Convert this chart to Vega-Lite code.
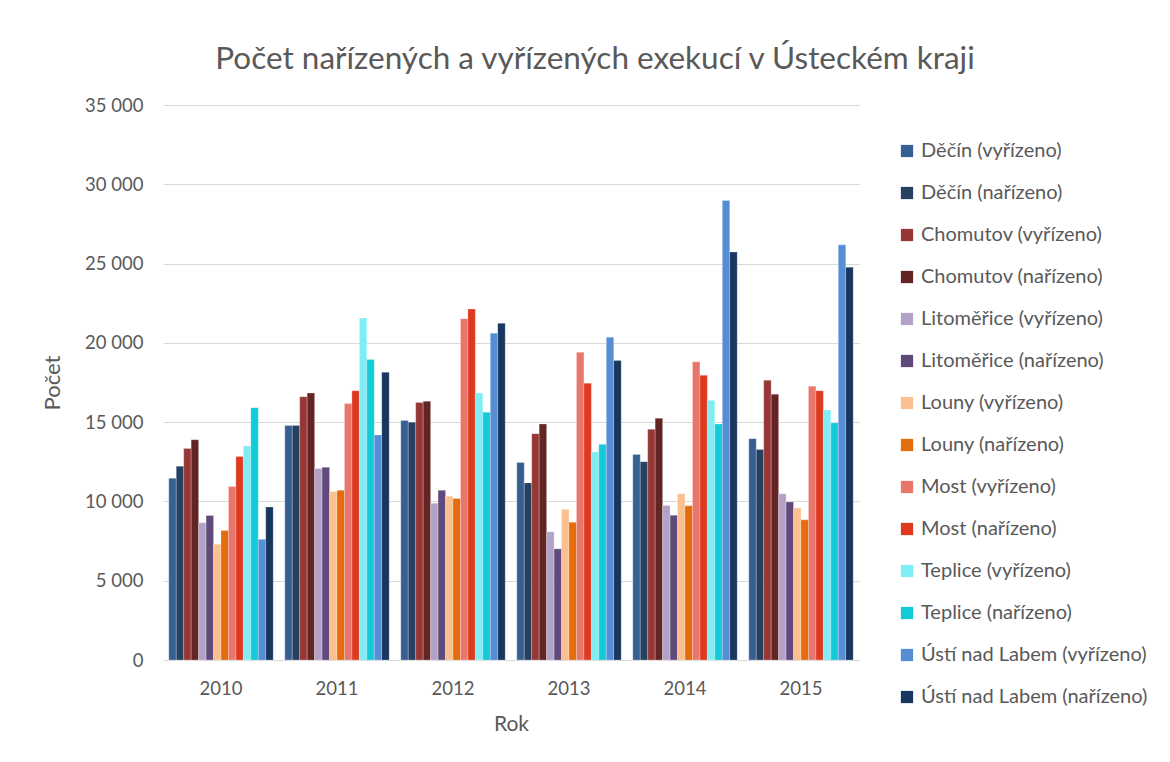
{
  "$schema": "https://vega.github.io/schema/vega-lite/v6.json",
  "width": 696,
  "height": 555,
  "autosize": {"type": "none"},
  "padding": {"left": 163, "top": 105, "right": 311, "bottom": 102},
  "background": "white",
  "title": {
    "text": "Počet nařízených a vyřízených exekucí v Ústeckém kraji",
    "font": "Lato",
    "fontSize": 31.5,
    "fontWeight": "normal",
    "color": "#595959",
    "anchor": "middle",
    "frame": "group",
    "dx": 84,
    "offset": 21
  },
  "data": {
    "values": [
      {"rok": "2010", "serie": "Děčín (vyřízeno)", "pocet": 11460},
      {"rok": "2010", "serie": "Děčín (nařízeno)", "pocet": 12220},
      {"rok": "2010", "serie": "Chomutov (vyřízeno)", "pocet": 13340},
      {"rok": "2010", "serie": "Chomutov (nařízeno)", "pocet": 13890},
      {"rok": "2010", "serie": "Litoměřice (vyřízeno)", "pocet": 8650},
      {"rok": "2010", "serie": "Litoměřice (nařízeno)", "pocet": 9110},
      {"rok": "2010", "serie": "Louny (vyřízeno)", "pocet": 7300},
      {"rok": "2010", "serie": "Louny (nařízeno)", "pocet": 8160},
      {"rok": "2010", "serie": "Most (vyřízeno)", "pocet": 10940},
      {"rok": "2010", "serie": "Most (nařízeno)", "pocet": 12840},
      {"rok": "2010", "serie": "Teplice (vyřízeno)", "pocet": 13500},
      {"rok": "2010", "serie": "Teplice (nařízeno)", "pocet": 15910},
      {"rok": "2010", "serie": "Ústí nad Labem (vyřízeno)", "pocet": 7610},
      {"rok": "2010", "serie": "Ústí nad Labem (nařízeno)", "pocet": 9650},

      {"rok": "2011", "serie": "Děčín (vyřízeno)", "pocet": 14790},
      {"rok": "2011", "serie": "Děčín (nařízeno)", "pocet": 14790},
      {"rok": "2011", "serie": "Chomutov (vyřízeno)", "pocet": 16600},
      {"rok": "2011", "serie": "Chomutov (nařízeno)", "pocet": 16830},
      {"rok": "2011", "serie": "Litoměřice (vyřízeno)", "pocet": 12080},
      {"rok": "2011", "serie": "Litoměřice (nařízeno)", "pocet": 12150},
      {"rok": "2011", "serie": "Louny (vyřízeno)", "pocet": 10630},
      {"rok": "2011", "serie": "Louny (nařízeno)", "pocet": 10700},
      {"rok": "2011", "serie": "Most (vyřízeno)", "pocet": 16170},
      {"rok": "2011", "serie": "Most (nařízeno)", "pocet": 16980},
      {"rok": "2011", "serie": "Teplice (vyřízeno)", "pocet": 21560},
      {"rok": "2011", "serie": "Teplice (nařízeno)", "pocet": 18950},
      {"rok": "2011", "serie": "Ústí nad Labem (vyřízeno)", "pocet": 14190},
      {"rok": "2011", "serie": "Ústí nad Labem (nařízeno)", "pocet": 18140},

      {"rok": "2012", "serie": "Děčín (vyřízeno)", "pocet": 15100},
      {"rok": "2012", "serie": "Děčín (nařízeno)", "pocet": 15000},
      {"rok": "2012", "serie": "Chomutov (vyřízeno)", "pocet": 16240},
      {"rok": "2012", "serie": "Chomutov (nařízeno)", "pocet": 16310},
      {"rok": "2012", "serie": "Litoměřice (vyřízeno)", "pocet": 9890},
      {"rok": "2012", "serie": "Litoměřice (nařízeno)", "pocet": 10700},
      {"rok": "2012", "serie": "Louny (vyřízeno)", "pocet": 10320},
      {"rok": "2012", "serie": "Louny (nařízeno)", "pocet": 10180},
      {"rok": "2012", "serie": "Most (vyřízeno)", "pocet": 21520},
      {"rok": "2012", "serie": "Most (nařízeno)", "pocet": 22130},
      {"rok": "2012", "serie": "Teplice (vyřízeno)", "pocet": 16830},
      {"rok": "2012", "serie": "Teplice (nařízeno)", "pocet": 15620},
      {"rok": "2012", "serie": "Ústí nad Labem (vyřízeno)", "pocet": 20610},
      {"rok": "2012", "serie": "Ústí nad Labem (nařízeno)", "pocet": 21230},

      {"rok": "2013", "serie": "Děčín (vyřízeno)", "pocet": 12460},
      {"rok": "2013", "serie": "Děčín (nařízeno)", "pocet": 11170},
      {"rok": "2013", "serie": "Chomutov (vyřízeno)", "pocet": 14270},
      {"rok": "2013", "serie": "Chomutov (nařízeno)", "pocet": 14880},
      {"rok": "2013", "serie": "Litoměřice (vyřízeno)", "pocet": 8080},
      {"rok": "2013", "serie": "Litoměřice (nařízeno)", "pocet": 7010},
      {"rok": "2013", "serie": "Louny (vyřízeno)", "pocet": 9510},
      {"rok": "2013", "serie": "Louny (nařízeno)", "pocet": 8680},
      {"rok": "2013", "serie": "Most (vyřízeno)", "pocet": 19400},
      {"rok": "2013", "serie": "Most (nařízeno)", "pocet": 17450},
      {"rok": "2013", "serie": "Teplice (vyřízeno)", "pocet": 13120},
      {"rok": "2013", "serie": "Teplice (nařízeno)", "pocet": 13600},
      {"rok": "2013", "serie": "Ústí nad Labem (vyřízeno)", "pocet": 20350},
      {"rok": "2013", "serie": "Ústí nad Labem (nařízeno)", "pocet": 18880},

      {"rok": "2014", "serie": "Děčín (vyřízeno)", "pocet": 12960},
      {"rok": "2014", "serie": "Děčín (nařízeno)", "pocet": 12510},
      {"rok": "2014", "serie": "Chomutov (vyřízeno)", "pocet": 14550},
      {"rok": "2014", "serie": "Chomutov (nařízeno)", "pocet": 15240},
      {"rok": "2014", "serie": "Litoměřice (vyřízeno)", "pocet": 9750},
      {"rok": "2014", "serie": "Litoměřice (nařízeno)", "pocet": 9130},
      {"rok": "2014", "serie": "Louny (vyřízeno)", "pocet": 10490},
      {"rok": "2014", "serie": "Louny (nařízeno)", "pocet": 9720},
      {"rok": "2014", "serie": "Most (vyřízeno)", "pocet": 18810},
      {"rok": "2014", "serie": "Most (nařízeno)", "pocet": 17950},
      {"rok": "2014", "serie": "Teplice (vyřízeno)", "pocet": 16380},
      {"rok": "2014", "serie": "Teplice (nařízeno)", "pocet": 14880},
      {"rok": "2014", "serie": "Ústí nad Labem (vyřízeno)", "pocet": 28980},
      {"rok": "2014", "serie": "Ústí nad Labem (nařízeno)", "pocet": 25730},

      {"rok": "2015", "serie": "Děčín (vyřízeno)", "pocet": 13960},
      {"rok": "2015", "serie": "Děčín (nařízeno)", "pocet": 13270},
      {"rok": "2015", "serie": "Chomutov (vyřízeno)", "pocet": 17640},
      {"rok": "2015", "serie": "Chomutov (nařízeno)", "pocet": 16760},
      {"rok": "2015", "serie": "Litoměřice (vyřízeno)", "pocet": 10490},
      {"rok": "2015", "serie": "Litoměřice (nařízeno)", "pocet": 9960},
      {"rok": "2015", "serie": "Louny (vyřízeno)", "pocet": 9580},
      {"rok": "2015", "serie": "Louny (nařízeno)", "pocet": 8840},
      {"rok": "2015", "serie": "Most (vyřízeno)", "pocet": 17260},
      {"rok": "2015", "serie": "Most (nařízeno)", "pocet": 16980},
      {"rok": "2015", "serie": "Teplice (vyřízeno)", "pocet": 15760},
      {"rok": "2015", "serie": "Teplice (nařízeno)", "pocet": 14950},
      {"rok": "2015", "serie": "Ústí nad Labem (vyřízeno)", "pocet": 26180},
      {"rok": "2015", "serie": "Ústí nad Labem (nařízeno)", "pocet": 24770}
    ]
  },
  "mark": {"type": "bar", "stroke": "white", "strokeWidth": 0.4, "strokeOpacity": 0.6},
  "encoding": {
    "x": {
      "field": "rok",
      "type": "nominal",
      "scale": {"paddingInner": 0.1, "paddingOuter": 0.05},
      "axis": {
        "title": "Rok",
        "labelAngle": 0,
        "ticks": false,
        "labelPadding": 19,
        "titlePadding": 16,
        "domainColor": "#d9d9d9",
        "domainWidth": 1
      }
    },
    "xOffset": {
      "field": "serie",
      "sort": ["Děčín (vyřízeno)", "Děčín (nařízeno)", "Chomutov (vyřízeno)", "Chomutov (nařízeno)", "Litoměřice (vyřízeno)", "Litoměřice (nařízeno)", "Louny (vyřízeno)", "Louny (nařízeno)", "Most (vyřízeno)", "Most (nařízeno)", "Teplice (vyřízeno)", "Teplice (nařízeno)", "Ústí nad Labem (vyřízeno)", "Ústí nad Labem (nařízeno)"],
      "scale": {"paddingInner": 0, "paddingOuter": 0}
    },
    "y": {
      "field": "pocet",
      "type": "quantitative",
      "scale": {"domain": [0, 35000], "nice": false},
      "axis": {
        "title": "Počet",
        "values": [0, 5000, 10000, 15000, 20000, 25000, 30000, 35000],
        "labelExpr": "replace(format(datum.value, ','), ',', ' ')",
        "ticks": false,
        "domain": false,
        "labelPadding": 20,
        "titlePadding": 20,
        "titleFontSize": 22,
        "gridColor": "#d9d9d9",
        "gridWidth": 1
      }
    },
    "color": {
      "field": "serie",
      "type": "nominal",
      "sort": ["Děčín (vyřízeno)", "Děčín (nařízeno)", "Chomutov (vyřízeno)", "Chomutov (nařízeno)", "Litoměřice (vyřízeno)", "Litoměřice (nařízeno)", "Louny (vyřízeno)", "Louny (nařízeno)", "Most (vyřízeno)", "Most (nařízeno)", "Teplice (vyřízeno)", "Teplice (nařízeno)", "Ústí nad Labem (vyřízeno)", "Ústí nad Labem (nařízeno)"],
      "scale": {
        "domain": ["Děčín (vyřízeno)", "Děčín (nařízeno)", "Chomutov (vyřízeno)", "Chomutov (nařízeno)", "Litoměřice (vyřízeno)", "Litoměřice (nařízeno)", "Louny (vyřízeno)", "Louny (nařízeno)", "Most (vyřízeno)", "Most (nařízeno)", "Teplice (vyřízeno)", "Teplice (nařízeno)", "Ústí nad Labem (vyřízeno)", "Ústí nad Labem (nařízeno)"],
        "range": ["#366092", "#254061", "#953735", "#632523", "#B3A2C7", "#604A7B", "#FAC090", "#E46C0A", "#E9766A", "#DE3A20", "#80EDF4", "#12CBD7", "#558ED5", "#17375E"]
      },
      "legend": {
        "title": null,
        "orient": "none",
        "legendX": 734,
        "legendY": 36,
        "symbolType": "square",
        "symbolSize": 150,
        "symbolStrokeWidth": 0,
        "rowPadding": 22,
        "labelFontSize": 20,
        "labelOffset": 4,
        "labelLimit": 300
      }
    }
  },
  "config": {
    "font": "Lato",
    "view": {"stroke": null},
    "axis": {
      "labelFont": "Lato",
      "labelFontSize": 18.5,
      "labelColor": "#595959",
      "titleFont": "Lato",
      "titleFontSize": 21,
      "titleFontWeight": "normal",
      "titleColor": "#595959"
    },
    "legend": {
      "labelFont": "Lato",
      "labelColor": "#595959"
    }
  }
}
